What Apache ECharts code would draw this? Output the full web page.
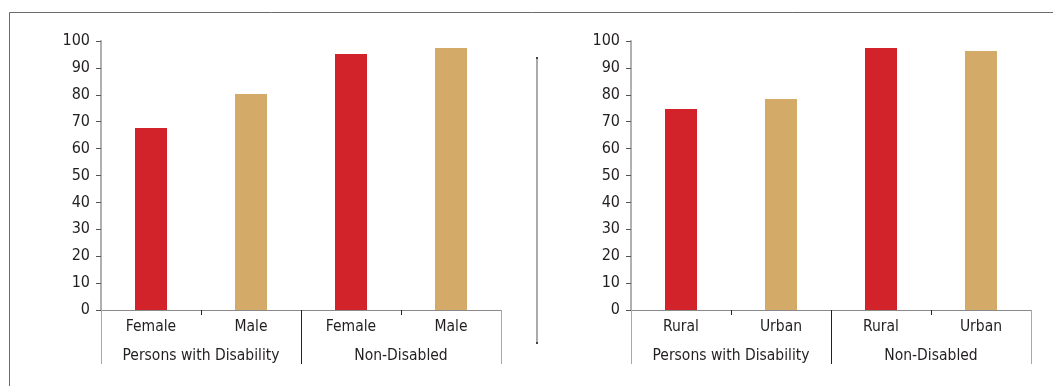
<!DOCTYPE html>
<html>
<head>
<meta charset="utf-8">
<script src="https://cdn.jsdelivr.net/npm/echarts@6/dist/echarts.min.js"></script>
<style>
html,body{margin:0;padding:0;background:#fff;}
#chart{width:1053px;height:386px;}
</style>
</head>
<body>
<div id="chart"></div>
<script>
// ---- data ----
const leftCategories = ['Female', 'Male', 'Female', 'Male'];
const rightCategories = ['Rural', 'Urban', 'Rural', 'Urban'];
const groups = ['Persons with Disability', 'Non-Disabled'];
const leftValues = [67.7, 80.3, 95.2, 97.4];
const rightValues = [74.7, 78.4, 97.4, 96.3];
const yMin = 0, yMax = 100, yStep = 10;

// ---- styles ----
const RED = '#d2232a', TAN = '#d3aa67', TEXT = '#231f20';
const catFont = '"DejaVu Sans Condensed", "Liberation Sans", sans-serif';
const tickFont = '"DejaVu Sans Condensed", "Liberation Sans", sans-serif';

const grids = [
  {left: 101, width: 400, top: 41, height: 269},
  {left: 631, width: 400, top: 41, height: 269}
];

function xAxesFor(gi, cats) {
  return [
    { // leaf categories
      type: 'category', gridIndex: gi, data: cats, position: 'bottom',
      axisLine: {show: true, lineStyle: {color: '#8a8a8a', width: 1}},
      axisTick: {show: true, length: 5, interval: 0, lineStyle: {color: '#222', width: 1}},
      axisLabel: {margin: 9, fontSize: 15.5, color: TEXT, fontFamily: catFont, interval: 0},
      splitLine: {show: false}
    },
    { // group categories
      type: 'category', gridIndex: gi, data: groups, position: 'bottom',
      axisLine: {show: false},
      axisTick: {show: true, length: 54, interval: 0, lineStyle: {color: '#222', width: 1}},
      axisLabel: {margin: 38, fontSize: 15.5, color: TEXT, fontFamily: catFont, interval: 0},
      splitLine: {show: false}
    },
    { // outer boundary lines (gray)
      type: 'category', gridIndex: gi, data: [''], position: 'bottom', z: 5,
      axisLine: {show: false},
      axisTick: {show: true, length: 54, lineStyle: {color: '#a8a8a8', width: 1}},
      axisLabel: {show: false}
    }
  ];
}

function yAxisFor(gi) {
  return {
    type: 'value', gridIndex: gi, min: yMin, max: yMax, interval: yStep,
    axisLine: {show: true, lineStyle: {color: '#b0b0b0', width: 2}},
    axisTick: {show: true, length: 5, lineStyle: {color: '#555', width: 1}},
    axisLabel: {margin: 11, fontSize: 16, color: TEXT, fontFamily: tickFont},
    splitLine: {show: false}
  };
}

const chart = echarts.init(document.getElementById('chart'), null, {renderer: 'canvas'});
chart.setOption({
  animation: false,
  backgroundColor: '#fff',
  grid: grids,
  xAxis: [...xAxesFor(0, leftCategories), ...xAxesFor(1, rightCategories)],
  yAxis: [yAxisFor(0), yAxisFor(1)],
  color: [RED, TAN],
  series: [
    {type: 'bar', xAxisIndex: 0, yAxisIndex: 0, data: leftValues, colorBy: 'data', barWidth: 32},
    {type: 'bar', xAxisIndex: 3, yAxisIndex: 1, data: rightValues, colorBy: 'data', barWidth: 32}
  ],
  graphic: [
    {type: 'line', shape: {x1: 9.5, y1: 12.5, x2: 1053, y2: 12.5}, style: {stroke: '#6b6b6b', lineWidth: 1}},
    {type: 'line', shape: {x1: 9.5, y1: 12.5, x2: 9.5, y2: 386}, style: {stroke: '#6b6b6b', lineWidth: 1}},
    {type: 'line', shape: {x1: 537, y1: 58, x2: 537, y2: 343}, style: {stroke: '#aaaaaa', lineWidth: 2}},
    {type: 'rect', shape: {x: 536, y: 57, width: 2, height: 2}, style: {fill: '#444'}},
    {type: 'rect', shape: {x: 536, y: 342, width: 2, height: 2}, style: {fill: '#444'}}
  ]
});
</script>
</body>
</html>
